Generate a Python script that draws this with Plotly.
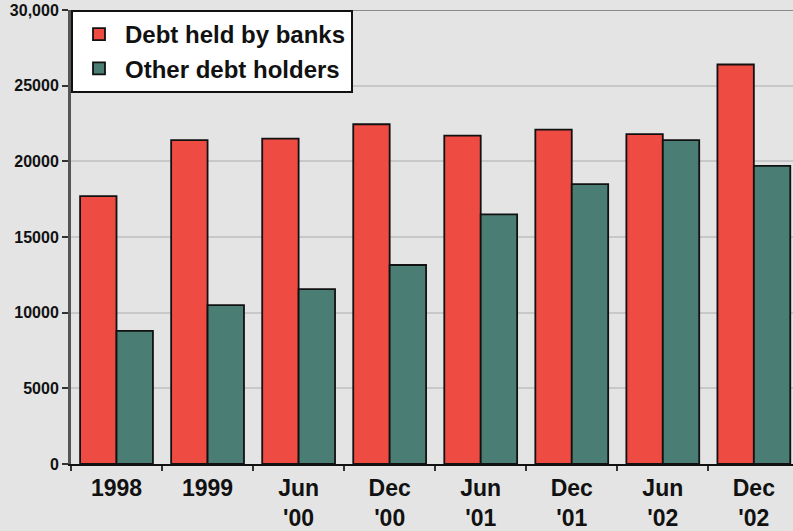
import plotly.graph_objects as go

categories = ["1998", "1999", "Jun<br>'00", "Dec<br>'00", "Jun<br>'01", "Dec<br>'01", "Jun<br>'02", "Dec<br>'02"]
banks = [17700, 21400, 21500, 22450, 21700, 22100, 21800, 26400]
others = [8800, 10500, 11550, 13150, 16500, 18500, 21400, 19700]
ytick_vals = [0, 5000, 10000, 15000, 20000, 25000, 30000]
ytick_text = ["0", "5000", "10000", "15000", "20000", "25000", "30,000"]

RED = "#ee4b43"
GREEN = "#4a7d74"
BG = "#e4e4e4"
FONT = "Liberation Sans, Arial, sans-serif"

fig = go.Figure()
fig.add_trace(go.Bar(x=categories, y=banks, name="Debt held by banks",
                     marker=dict(color=RED, line=dict(color="#111111", width=1.8))))
fig.add_trace(go.Bar(x=categories, y=others, name="Other debt holders",
                     marker=dict(color=GREEN, line=dict(color="#111111", width=1.8))))

fig.update_layout(
    width=793, height=531,
    margin=dict(l=71, r=0, t=10, b=67),
    paper_bgcolor=BG, plot_bgcolor=BG,
    barmode="group", bargap=0.2, bargroupgap=0,
    font=dict(family=FONT, color="#111111"),
    legend=dict(
        x=0, y=1, xanchor="left", yanchor="top",
        bgcolor="white", bordercolor="#111111", borderwidth=2,
        font=dict(size=24, family=FONT, weight="bold", color="#111111"),
        tracegroupgap=0, itemwidth=42,
    ),
    showlegend=True,
)
fig.update_xaxes(
    type="category", range=[-0.5, 7.43],
    showline=True, linecolor="#111111", linewidth=2,
    ticks="outside", tickson="boundaries", ticklen=5, tickwidth=2, tickcolor="#333333",
    tickfont=dict(size=23, family=FONT, weight="bold", color="#111111"),
    ticklabelstandoff=2,
    showgrid=False,
)
fig.update_yaxes(
    range=[0, 30000], tickvals=ytick_vals, ticktext=ytick_text,
    showline=True, linecolor="#555555", linewidth=3,
    ticks="outside", ticklen=6, tickwidth=2, tickcolor="#333333",
    tickfont=dict(size=16, family=FONT, weight="bold", color="#111111"),
    showgrid=True, gridcolor="#c8c8c8", gridwidth=2,
    zeroline=False,
)
fig.add_shape(type="line", xref="paper", yref="y", x0=0, x1=1, y0=30000, y1=30000,
              line=dict(color="#8a8a8a", width=2), layer="below")

fig.write_html("out.html")
